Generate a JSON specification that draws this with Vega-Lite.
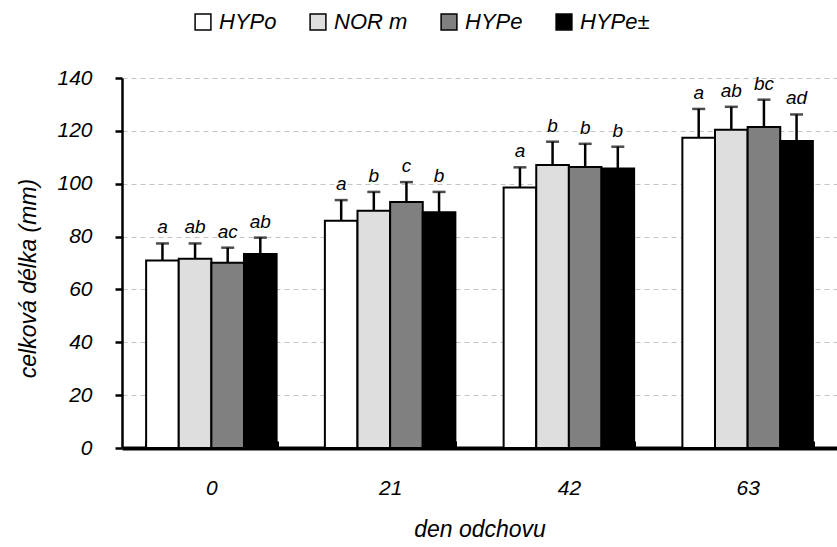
{
  "$schema": "https://vega.github.io/schema/vega-lite/v6.json",
  "autosize": "none",
  "width": 715,
  "height": 370,
  "padding": {"left": 122, "top": 78, "right": 0, "bottom": 99},
  "background": "white",
  "data": {
    "values": [
      {"day": "0", "group": "HYPo", "mean": 70.9, "upper": 77.4, "label": "a"},
      {"day": "0", "group": "NOR m", "mean": 71.6, "upper": 77.4, "label": "ab"},
      {"day": "0", "group": "HYPe", "mean": 70.1, "upper": 75.8, "label": "ac"},
      {"day": "0", "group": "HYPe±", "mean": 73.4, "upper": 79.6, "label": "ab"},
      {"day": "21", "group": "HYPo", "mean": 86.0, "upper": 93.8, "label": "a"},
      {"day": "21", "group": "NOR m", "mean": 89.8, "upper": 96.9, "label": "b"},
      {"day": "21", "group": "HYPe", "mean": 93.1, "upper": 100.6, "label": "c"},
      {"day": "21", "group": "HYPe±", "mean": 89.2, "upper": 96.9, "label": "b"},
      {"day": "42", "group": "HYPo", "mean": 98.6, "upper": 106.2, "label": "a"},
      {"day": "42", "group": "NOR m", "mean": 107.1, "upper": 115.9, "label": "b"},
      {"day": "42", "group": "HYPe", "mean": 106.3, "upper": 115.1, "label": "b"},
      {"day": "42", "group": "HYPe±", "mean": 105.8, "upper": 114.0, "label": "b"},
      {"day": "63", "group": "HYPo", "mean": 117.4, "upper": 128.3, "label": "a"},
      {"day": "63", "group": "NOR m", "mean": 120.4, "upper": 129.1, "label": "ab"},
      {"day": "63", "group": "HYPe", "mean": 121.5, "upper": 131.8, "label": "bc"},
      {"day": "63", "group": "HYPe±", "mean": 116.2, "upper": 126.2, "label": "ad"}
    ]
  },
  "encoding": {
    "x": {
      "field": "day",
      "type": "ordinal",
      "sort": ["0", "21", "42", "63"],
      "scale": {"paddingInner": 0.27, "paddingOuter": 0.135},
      "axis": {
        "title": "den odchovu",
        "titleFontSize": 23,
        "labelAngle": 0,
        "tickBand": "extent",
        "tickSize": -7,
        "tickWidth": 3,
        "tickColor": "black",
        "domainWidth": 4,
        "domainColor": "black",
        "labelPadding": 36,
        "titlePadding": 20,
        "grid": false
      }
    },
    "xOffset": {
      "field": "group",
      "type": "nominal",
      "scale": {"domain": ["HYPo", "NOR m", "HYPe", "HYPe±"], "paddingInner": 0, "paddingOuter": 0}
    }
  },
  "layer": [
    {
      "mark": {"type": "bar", "stroke": "black", "strokeWidth": 2},
      "encoding": {
        "y": {
          "field": "mean",
          "type": "quantitative",
          "scale": {"domain": [0, 140], "nice": false},
          "axis": {
            "title": "celková délka (mm)",
            "values": [0, 20, 40, 60, 80, 100, 120, 140],
            "tickSize": 7,
            "tickWidth": 2.5,
            "tickColor": "black",
            "domainWidth": 2.5,
            "domainColor": "black",
            "labelPadding": 23,
            "grid": true,
            "gridDash": [5, 4],
            "gridColor": "#c4c4c4",
            "gridWidth": 1,
            "titleX": -94,
            "titleY": 200,
            "titleBaseline": "middle",
            "titleFontSize": 23
          }
        },
        "fill": {
          "field": "group",
          "type": "nominal",
          "scale": {"domain": ["HYPo", "NOR m", "HYPe", "HYPe±"], "range": ["#ffffff", "#dedede", "#808080", "#000000"]},
          "legend": {
            "title": null,
            "orient": "none",
            "direction": "horizontal",
            "legendX": 70,
            "legendY": -67,
            "symbolType": "square",
            "symbolSize": 250,
            "symbolStrokeColor": "black",
            "symbolStrokeWidth": 1.5,
            "labelFontSize": 22,
            "labelFont": "Liberation Sans",
            "labelFontStyle": "italic",
            "labelColor": "black",
            "labelOffset": 5,
            "columnPadding": 30
          }
        }
      }
    },
    {
      "mark": {"type": "rule", "color": "black", "strokeWidth": 2.5},
      "encoding": {
        "y": {"field": "mean", "type": "quantitative"},
        "y2": {"field": "upper"}
      }
    },
    {
      "mark": {"type": "tick", "color": "black", "size": 13, "thickness": 2.5},
      "encoding": {
        "y": {"field": "upper", "type": "quantitative"}
      }
    },
    {
      "mark": {"type": "text", "baseline": "alphabetic", "dy": -10, "fontSize": 19, "font": "Liberation Sans", "fontStyle": "italic", "color": "black"},
      "encoding": {
        "y": {"field": "upper", "type": "quantitative"},
        "text": {"field": "label"}
      }
    }
  ],
  "config": {
    "view": {"stroke": null},
    "axis": {
      "labelFont": "Liberation Sans",
      "labelFontStyle": "italic",
      "labelFontSize": 21,
      "labelColor": "black",
      "titleFont": "Liberation Sans",
      "titleFontStyle": "italic",
      "titleFontWeight": "normal",
      "titleFontSize": 21,
      "titleColor": "black"
    }
  }
}
